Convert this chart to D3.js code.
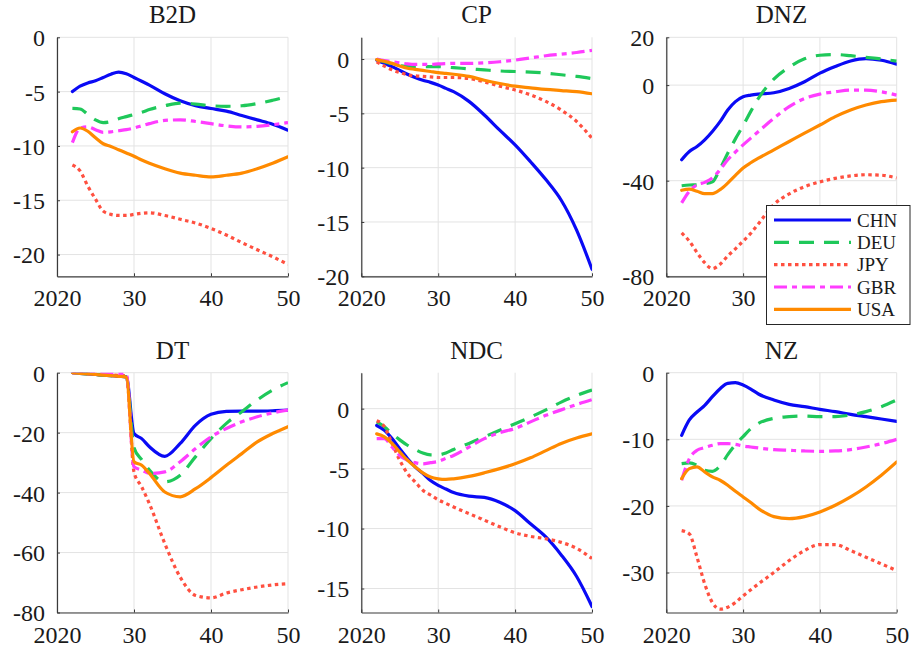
<!DOCTYPE html>
<html>
<head>
<meta charset="utf-8">
<script src="https://cdn.jsdelivr.net/npm/d3@7"></script>
<style>
  html, body { margin: 0; padding: 0; background: #fff; }
  svg { display: block; }
  svg text { font-family: "Liberation Serif", "Times New Roman", serif !important; fill: #1a1a1a; }
</style>
</head>
<body>
<svg id="chart" width="912" height="648"></svg>
<script>
// Sample years shared by every series
const years = [2022, 2023, 2024, 2025, 2026, 2027, 2028, 2029, 2030, 2031,
               2032, 2034, 2036, 2038, 2040, 2042, 2044, 2046, 2048, 2050];

const countries = ["CHN", "DEU", "JPY", "GBR", "USA"];
const colors = ["#0a0af5", "#1fc85a", "#ff5040", "#ff3dff", "#ff8a00"];
const dashes = [null, "15,10", "3.5,3.5", "13,5,5,5", null];

const xTicks = [2020, 2030, 2040, 2050];
const xTickLabels = ["2020", "30", "40", "50"];

// Series values per panel, in the order of `countries`
const b2d = [
  [-5.0, -4.5, -4.2, -4.0, -3.7, -3.4, -3.2, -3.35, -3.7, -4.05, -4.4, -5.2, -5.85, -6.3, -6.55, -6.8, -7.2, -7.6, -8.0, -8.55],
  [-6.55, -6.6, -7.1, -7.6, -7.85, -7.75, -7.5, -7.3, -7.1, -6.9, -6.65, -6.3, -6.05, -6.15, -6.3, -6.35, -6.3, -6.1, -5.8, -5.45],
  [-11.75, -12.3, -13.7, -14.9, -16.0, -16.3, -16.4, -16.4, -16.3, -16.2, -16.15, -16.4, -16.75, -17.1, -17.6, -18.2, -18.9, -19.55, -20.2, -20.9],
  [-9.7, -8.35, -8.25, -8.5, -8.75, -8.7, -8.6, -8.5, -8.35, -8.15, -7.95, -7.65, -7.6, -7.75, -7.95, -8.15, -8.25, -8.2, -8.05, -7.85],
  [-8.7, -8.35, -8.65, -9.25, -9.8, -10.05, -10.35, -10.65, -10.95, -11.3, -11.6, -12.1, -12.5, -12.7, -12.85, -12.7, -12.5, -12.1, -11.6, -11.0]
];
const cp = [
  [-0.1, -0.4, -0.7, -1.05, -1.4, -1.7, -1.95, -2.15, -2.4, -2.7, -3.0, -3.9, -5.15, -6.55, -7.9, -9.45, -11.1, -13.0, -15.75, -19.35],
  [-0.05, -0.25, -0.45, -0.6, -0.7, -0.7, -0.7, -0.7, -0.7, -0.75, -0.8, -0.9, -1.0, -1.1, -1.15, -1.2, -1.3, -1.45, -1.6, -1.8],
  [-0.25, -0.65, -1.0, -1.25, -1.45, -1.55, -1.6, -1.65, -1.7, -1.7, -1.7, -1.8, -2.1, -2.5, -2.85, -3.3, -3.9, -4.7, -5.75, -7.3],
  [0, -0.15, -0.25, -0.35, -0.45, -0.5, -0.5, -0.5, -0.45, -0.42, -0.4, -0.4, -0.35, -0.25, -0.1, 0.1, 0.3, 0.45, 0.6, 0.8],
  [-0.05, -0.2, -0.4, -0.65, -0.85, -0.95, -1.05, -1.15, -1.25, -1.32, -1.4, -1.6, -1.95, -2.25, -2.5, -2.65, -2.8, -2.9, -3.0, -3.2]
];
const dnz = [
  [-31.25, -27.8, -25.7, -22.9, -19.4, -15.3, -10.4, -6.9, -4.9, -4.2, -3.75, -3.2, -1.4, 1.4, 5.0, 7.8, 10.1, 11.1, 10.4, 8.75],
  [-42.1, -41.8, -41.7, -41.3, -40.5, -35, -28.5, -22.5, -17, -11, -5.5, 2.5, 7.5, 11, 12.5, 12.8, 12.3, 11.6, 10.9, 10],
  [-61.8, -65.3, -70.1, -74.3, -76.8, -75, -71.5, -68.5, -65.3, -62, -58, -50, -45.5, -42.5, -40.5, -39, -38, -37.5, -37.7, -38.9],
  [-49.3, -44.4, -41.7, -40.7, -38.9, -35.4, -31.25, -28, -25, -22.2, -19.4, -13.9, -9, -5.6, -3.75, -2.8, -2.1, -2.1, -2.8, -4.2],
  [-44, -43.5, -44.4, -45.4, -45.4, -43.75, -41, -37.8, -34.7, -32.5, -30.6, -27.1, -23.6, -20.1, -16.7, -13.2, -10.4, -8.3, -6.9, -6.25]
];
const dt = [
  [0, -0.2, -0.4, -0.6, -0.8, -1.0, -1.2, -1.4, -20.3, -22, -24.7, -27.9, -23.6, -17.5, -13.9, -12.9, -12.8, -12.8, -12.7, -12.5],
  [0, -0.2, -0.4, -0.6, -0.8, -1.0, -1.2, -1.4, -25, -29, -32.5, -36.4, -34.2, -28, -22, -16.9, -13, -9.1, -5.8, -3.3],
  [0, -0.15, -0.3, -0.45, -0.6, -0.75, -0.9, -1.0, -33.1, -38.1, -43.7, -57, -68.2, -74.3, -75.1, -73.5, -72.4, -71.5, -70.8, -70.4],
  [0, -0.05, -0.1, -0.15, -0.2, -0.25, -0.3, -0.4, -31.4, -32.5, -33.6, -33.1, -29.7, -25.3, -21.4, -18.6, -16.4, -14.7, -13.4, -12.5],
  [0, -0.2, -0.4, -0.6, -0.8, -1.0, -1.2, -1.5, -29.7, -30.9, -33.6, -39.8, -41.4, -38.7, -35, -30.9, -27, -23.1, -20.3, -18]
];
const ndc = [
  [-1.4, -1.8, -2.5, -3.35, -4.15, -4.85, -5.4, -6, -6.4, -6.7, -7.0, -7.3, -7.4, -7.8, -8.5, -9.6, -10.7, -12.2, -14, -16.5],
  [-1.1, -1.5, -2.1, -2.6, -3.05, -3.4, -3.7, -3.85, -3.85, -3.7, -3.4, -2.9, -2.35, -1.8, -1.25, -0.7, -0.1, 0.55, 1.1, 1.55],
  [-1.0, -1.5, -2.9, -4.3, -5.4, -6.1, -6.8, -7.2, -7.6, -7.9, -8.2, -8.75, -9.3, -9.85, -10.35, -10.65, -10.85, -11.15, -11.65, -12.5],
  [-2.5, -2.5, -3.2, -3.9, -4.3, -4.5, -4.6, -4.5, -4.4, -4.15, -3.9, -3.2, -2.5, -2.0, -1.65, -1.1, -0.55, -0.1, 0.35, 0.75],
  [-2.1, -2.35, -2.9, -3.6, -4.3, -4.85, -5.35, -5.7, -5.85, -5.9, -5.85, -5.65, -5.35, -5.0, -4.6, -4.1, -3.5, -2.9, -2.45, -2.1]
];
const nz = [
  [-9.4, -7.1, -5.9, -4.9, -3.6, -2.4, -1.6, -1.5, -1.85, -2.45, -3.2, -4.1, -4.75, -5.1, -5.5, -5.85, -6.25, -6.6, -6.95, -7.3],
  [-13.65, -13.55, -13.9, -14.65, -14.8, -14.0, -12.3, -10.8, -9.6, -8.4, -7.6, -6.85, -6.6, -6.5, -6.6, -6.6, -6.35, -5.85, -5.1, -4.1],
  [-23.7, -24.2, -27.7, -31.7, -34.5, -35.5, -35.2, -34.5, -33.5, -32.6, -31.7, -30, -28.2, -26.7, -25.8, -25.8, -26.7, -27.7, -28.7, -29.7],
  [-16.15, -12.9, -11.65, -11.25, -10.9, -10.65, -10.65, -10.75, -11, -11.15, -11.3, -11.55, -11.65, -11.75, -11.8, -11.75, -11.55, -11.15, -10.65, -10],
  [-15.9, -14.4, -14.15, -14.9, -15.65, -16.15, -16.9, -17.8, -18.65, -19.5, -20.4, -21.6, -21.9, -21.6, -20.9, -19.9, -18.65, -17.15, -15.4, -13.4]
];

const titles = ["B2D", "CP", "DNZ", "DT", "NDC", "NZ"];
const panelData = [b2d, cp, dnz, dt, ndc, nz];
const yDomains = [[-22, 0], [-20, 2], [-80, 20], [-80, 0], [-17, 3], [-36, 0]];
const yTicks = [
  [-20, -15, -10, -5, 0],
  [-20, -15, -10, -5, 0],
  [-80, -40, 0, 20],
  [-80, -60, -40, -20, 0],
  [-15, -10, -5, 0],
  [-30, -20, -10, 0]
];

// Axes boxes (left/right per column, top/bottom per row)
const colBox = [[57, 288], [361.3, 592], [666.3, 896.7]];
const rowBox = [[37.3, 276.3], [372.7, 612.5]];

// Legend box, sitting over the lower right of the DNZ panel
const legendBox = { x: 766.5, y: 205.5, w: 143.5, h: 119 };

const svg = d3.select("#chart");
const axisColor = "#3a3a3a";
const gridColor = "#e3e3e3";
const serif = '"Liberation Serif", "Times New Roman", serif';

panelData.forEach((series, i) => {
  const [x0, x1] = colBox[i % 3];
  const [y0, y1] = rowBox[Math.floor(i / 3)];
  const x = d3.scaleLinear().domain([2020, 2050]).range([x0, x1]);
  const y = d3.scaleLinear().domain(yDomains[i]).range([y1, y0]);

  const g = svg.append("g");

  // grid
  g.append("g").selectAll("line").data(xTicks).join("line")
    .attr("x1", d => x(d)).attr("x2", d => x(d))
    .attr("y1", y0).attr("y2", y1)
    .attr("stroke", gridColor).attr("stroke-width", 1);
  g.append("g").selectAll("line").data(yTicks[i]).join("line")
    .attr("x1", x0).attr("x2", x1)
    .attr("y1", d => y(d)).attr("y2", d => y(d))
    .attr("stroke", gridColor).attr("stroke-width", 1);

  // clip region
  const clipId = "clip" + i;
  svg.append("clipPath").attr("id", clipId)
    .append("rect").attr("x", x0).attr("y", y0)
    .attr("width", x1 - x0).attr("height", y1 - y0);

  const line = d3.line()
    .x((d, k) => x(years[k]))
    .y(d => y(d))
    .curve(d3.curveMonotoneX);

  const lines = g.append("g").attr("clip-path", `url(#${clipId})`);
  series.forEach((vals, s) => {
    lines.append("path")
      .attr("d", line(vals))
      .attr("fill", "none")
      .attr("stroke", colors[s])
      .attr("stroke-width", 3.2)
      .attr("stroke-linecap", dashes[s] ? "butt" : "round")
      .attr("stroke-linejoin", "round")
      .attr("stroke-dasharray", dashes[s]);
  });

  // x tick labels that fall under the legend box stay hidden
  const underLegend = d => x(d) > legendBox.x && y1 > legendBox.y && y1 < legendBox.y + legendBox.h;

  // axes (ticks inward)
  const xAxis = d3.axisBottom(x).tickValues(xTicks)
    .tickFormat((d, k) => underLegend(d) ? "" : xTickLabels[k])
    .tickSizeInner(-3).tickSizeOuter(0).tickPadding(13);
  const yAxis = d3.axisLeft(y).tickValues(yTicks[i])
    .tickFormat(d => String(d)).tickSizeInner(-3).tickSizeOuter(0).tickPadding(12);

  const gx = g.append("g").attr("transform", `translate(0,${y1})`).call(xAxis);
  const gy = g.append("g").attr("transform", `translate(${x0},0)`).call(yAxis);
  [gx, gy].forEach(a => {
    a.attr("font-family", serif).attr("font-size", 24);
    a.select(".domain").attr("stroke", axisColor).attr("stroke-width", 1.2);
    a.selectAll(".tick line").attr("stroke", axisColor).attr("stroke-width", 1);
    a.selectAll(".tick text")
      .style("font-family", serif)
      .style("font-size", "24px").attr("fill", "#1a1a1a");
  });
  gx.selectAll(".tick text").attr("dy", "0.71em");
  gy.selectAll(".tick text").attr("dy", "0.35em");

  // title
  g.append("text")
    .attr("x", (x0 + x1) / 2).attr("y", y0 - 14)
    .attr("text-anchor", "middle")
    .style("font-family", serif)
    .style("font-size", "25px")
    .text(titles[i]);
});

// legend
const legend = svg.append("g");
legend.append("rect")
  .attr("x", legendBox.x).attr("y", legendBox.y)
  .attr("width", legendBox.w).attr("height", legendBox.h)
  .attr("fill", "#fff").attr("stroke", "#262626").attr("stroke-width", 1);
const rowY = d3.scalePoint().domain(countries).range([220, 309.3]);
countries.forEach((c, s) => {
  legend.append("line")
    .attr("x1", 774).attr("x2", 851)
    .attr("y1", rowY(c)).attr("y2", rowY(c))
    .attr("stroke", colors[s]).attr("stroke-width", 3.2)
    .attr("stroke-dasharray", dashes[s]);
  legend.append("text")
    .attr("x", 857).attr("y", rowY(c)).attr("dy", "0.35em")
    .style("font-family", serif)
    .style("font-size", "19px")
    .text(c);
});
</script>
</body>
</html>
